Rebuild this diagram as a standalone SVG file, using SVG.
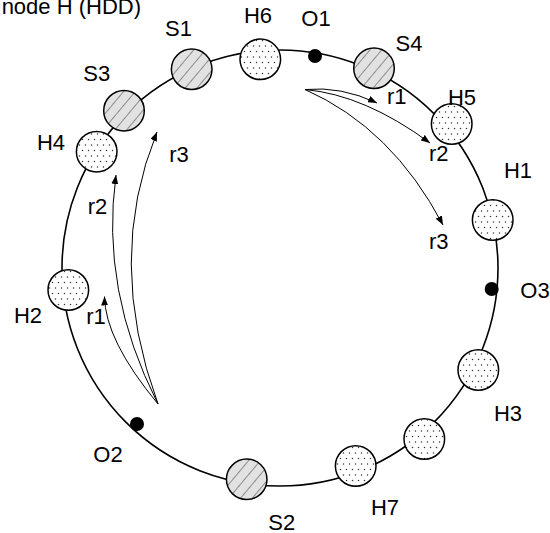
<svg xmlns="http://www.w3.org/2000/svg" width="550" height="533" viewBox="0 0 550 533">
<defs>
<style>
text{font-family:"Liberation Sans",Arial,Helvetica,sans-serif;font-size:22px;fill:#000}
.ring{fill:none;stroke:#000;stroke-width:1.6}
.ssd{fill:url(#hatch);stroke:#000;stroke-width:1.5}
.hdd{fill:url(#dots);stroke:#000;stroke-width:1.5}
.obj{fill:#000}
.arr{fill:none;stroke:#000;stroke-width:1;marker-end:url(#ah)}
</style>
<pattern id="hatch" patternUnits="userSpaceOnUse" width="9" height="9" patternTransform="rotate(40)">
<rect width="9" height="9" fill="#e2e2e2"/>
<line x1="0" y1="0" x2="0" y2="9" stroke="#444" stroke-width="1.1"/>
</pattern>
<pattern id="dots" patternUnits="userSpaceOnUse" width="6" height="11">
<rect width="6" height="11" fill="#fff"/>
<circle cx="1.5" cy="2" r="0.75" fill="#333"/>
<circle cx="4.5" cy="7.5" r="0.75" fill="#333"/>
</pattern>
<marker id="ah" markerUnits="userSpaceOnUse" markerWidth="9" markerHeight="7" refX="9" refY="3.5" orient="auto">
<path d="M0,0 L9,3.5 L0,7 z" fill="#000"/>
</marker>
</defs>
<text x="141" y="14" text-anchor="end">node H (HDD)</text>
<g id="connectors">
<circle class="ring" cx="280" cy="268" r="218"/>
<path class="arr" d="M305,89.5 Q341,86 377,103"/>
<path class="arr" d="M305,89.5 Q365,95 430,143"/>
<path class="arr" d="M305,89.5 Q392,128 443,225"/>
<path class="arr" d="M158,404 Q105,340 104.5,296.5"/>
<path class="arr" d="M158,404 Q100,290 116,175"/>
<path class="arr" d="M158,404 Q105,260 157,132"/>
</g>
<g id="S1"><circle class="ssd" cx="191.7" cy="69.3" r="20.3"/><text x="178.5" y="35.5" text-anchor="middle">S1</text></g>
<g id="H6"><circle class="hdd" cx="260.3" cy="59.3" r="20.3"/><text x="258" y="23" text-anchor="middle">H6</text></g>
<g id="O1"><circle class="obj" cx="315" cy="56" r="7"/><text x="316" y="26" text-anchor="middle">O1</text></g>
<g id="S4"><circle class="ssd" cx="374" cy="68.3" r="20.3"/><text x="409" y="51" text-anchor="middle">S4</text></g>
<g id="H5"><circle class="hdd" cx="451.7" cy="124" r="20.3"/><text x="462" y="105" text-anchor="middle">H5</text></g>
<g id="H1"><circle class="hdd" cx="492.7" cy="220" r="20.3"/><text x="518" y="177.5" text-anchor="middle">H1</text></g>
<g id="O3"><circle class="obj" cx="491.7" cy="289" r="7"/><text x="535" y="298" text-anchor="middle">O3</text></g>
<g id="H3"><circle class="hdd" cx="478.3" cy="370" r="20.3"/><text x="508" y="421" text-anchor="middle">H3</text></g>
<g id="H8"><circle class="hdd" cx="424.3" cy="439" r="20.3"/></g>
<g id="H7"><circle class="hdd" cx="355.7" cy="466" r="20.3"/><text x="385" y="514.5" text-anchor="middle">H7</text></g>
<g id="S2"><circle class="ssd" cx="246.7" cy="479.3" r="20.3"/><text x="281.7" y="529.5" text-anchor="middle">S2</text></g>
<g id="O2"><circle class="obj" cx="137" cy="424" r="7"/><text x="108" y="461.5" text-anchor="middle">O2</text></g>
<g id="H2"><circle class="hdd" cx="68.3" cy="290" r="20.3"/><text x="28" y="322.5" text-anchor="middle">H2</text></g>
<g id="H4"><circle class="hdd" cx="96.7" cy="151.7" r="20.3"/><text x="51" y="149.5" text-anchor="middle">H4</text></g>
<g id="S3"><circle class="ssd" cx="124" cy="110.7" r="20.3"/><text x="96.7" y="80.5" text-anchor="middle">S3</text></g>
<g id="labels">
<text x="396.7" y="104" text-anchor="middle">r1</text>
<text x="438.8" y="160.5" text-anchor="middle">r2</text>
<text x="438.8" y="248.5" text-anchor="middle">r3</text>
<text x="96" y="323.5" text-anchor="middle">r1</text>
<text x="97.5" y="213.5" text-anchor="middle">r2</text>
<text x="179" y="162" text-anchor="middle">r3</text>
</g>
</svg>
